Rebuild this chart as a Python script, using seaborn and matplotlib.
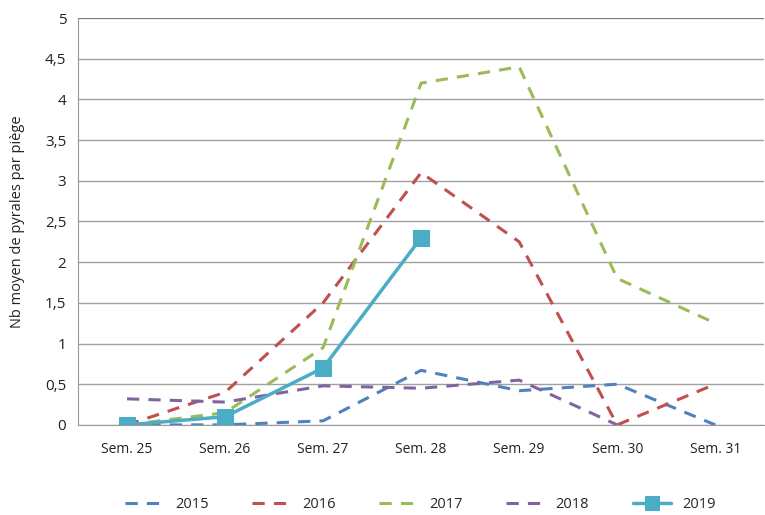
# Nb moyen de pyrales par piège, semaines 25 à 31
import numpy as np
import pandas as pd
import matplotlib
matplotlib.use("Agg")
import matplotlib.pyplot as plt
import seaborn as sns
import matplotlib.ticker as ticker

# Data
weeks = ["Sem. 25", "Sem. 26", "Sem. 27", "Sem. 28", "Sem. 29", "Sem. 30", "Sem. 31"]
y2015 = [0.0, 0.0, 0.05, 0.67, 0.42, 0.5, 0.0]
y2016 = [0.0, 0.4, 1.5, 3.1, 2.25, 0.0, 0.5]
y2017 = [0.0, 0.15, 0.95, 4.2, 4.4, 1.8, 1.25]
y2018 = [0.32, 0.28, 0.48, 0.45, 0.55, 0.0, np.nan]
y2019 = [0.0, 0.1, 0.7, 2.3, np.nan, np.nan, np.nan]

years = ["2015", "2016", "2017", "2018", "2019"]
colors = ["#4F81BD", "#C0504D", "#9BBB59", "#8064A2", "#4BACC6"]

rows = []
for yr, vals in zip(years, [y2015, y2016, y2017, y2018, y2019]):
    for i, v in enumerate(vals):
        rows.append({"pos": i, "week": weeks[i], "year": yr, "value": v})
df = pd.DataFrame(rows)

sns.set_style("white")
plt.rcParams["font.family"] = ["Open Sans", "DejaVu Sans"]

fig = plt.figure(figsize=(7.65, 5.15), dpi=100)
ax = fig.add_axes([0.102, 0.175, 0.897, 0.79])

for yr, col in zip(years, colors):
    d = df[df["year"] == yr].dropna()
    if yr == "2019":
        sns.lineplot(data=d, x="pos", y="value", ax=ax, color=col, linewidth=2.5,
                     marker="s", markersize=11, markeredgecolor=col, label=yr)
    else:
        sns.lineplot(data=d, x="pos", y="value", ax=ax, color=col, linewidth=2.2,
                     dashes=False, label=yr)
        ax.lines[-1].set_linestyle((0, (4, 3)))

ax.set_xlim(-0.5, 6.5)
ax.set_ylim(0, 5)
ax.set_xticks(range(len(weeks)))
ax.set_xticklabels(weeks, fontsize=10, color="#222222")
ax.xaxis.set_minor_locator(ticker.FixedLocator(np.arange(0.5, 6.0, 1.0)))
ax.tick_params(axis="x", which="major", length=0, pad=12)
ax.tick_params(axis="x", which="minor", length=5, color="#999999", direction="out")
ax.set_yticks(np.arange(0, 5.01, 0.5))
ax.yaxis.set_major_formatter(ticker.FuncFormatter(lambda v, p: ("%g" % v).replace(".", ",")))
ax.tick_params(axis="y", length=5, color="#999999", direction="out", labelsize=11, labelcolor="#222222")
ax.grid(axis="y", color="#A0A0A0", linewidth=1)
ax.set_axisbelow(True)
ax.set_xlabel("")
ax.set_ylabel("Nb moyen de pyrales par piège", fontsize=10.5, color="#222222", labelpad=14)

for s in ["top", "right"]:
    ax.spines[s].set_visible(False)
ax.spines["left"].set_color("#999999")
ax.spines["bottom"].set_color("#999999")
ax.axhline(5, color="#777777", linewidth=1.2)

handles, labels = ax.get_legend_handles_labels()
ax.legend_.remove()
fig.legend(handles, labels, loc="lower center", bbox_to_anchor=(0.55, -0.02), ncol=5,
           frameon=False, fontsize=10.5, handlelength=2.6, handletextpad=0.8,
           columnspacing=3.0, markerscale=0.9)

fig.savefig("out.png", dpi=100)
